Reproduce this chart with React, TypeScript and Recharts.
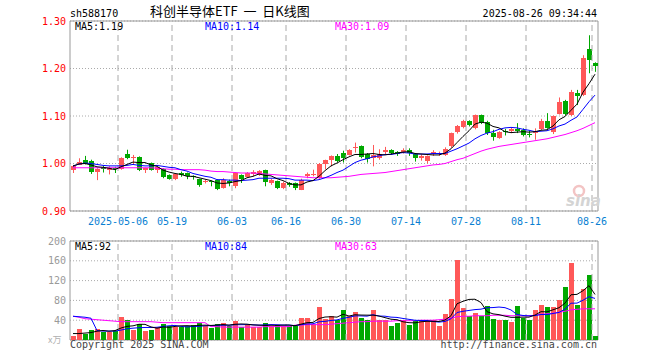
import React from 'react'
import { ComposedChart, Bar, Line, XAxis, YAxis, CartesianGrid, ReferenceLine, ReferenceArea } from 'recharts'

const UP = '#ff5858'
const DOWN = '#00a800'
const GRID = '#aaaaaa'
const FRAME = '#999999'
const MONO = '"DejaVu Sans Mono", monospace'
const CJK = '"Noto Sans CJK SC", sans-serif'

// trading days, 2025-04-21 .. 2025-08-26
const DATES = [
  '2025-04-21', '2025-04-22', '2025-04-23', '2025-04-24', '2025-04-25', '2025-04-28', '2025-04-29', '2025-04-30',
  '2025-05-06', '2025-05-07', '2025-05-08', '2025-05-09', '2025-05-12', '2025-05-13', '2025-05-14', '2025-05-15',
  '2025-05-16', '2025-05-19', '2025-05-20', '2025-05-21', '2025-05-22', '2025-05-23', '2025-05-26', '2025-05-27',
  '2025-05-28', '2025-05-29', '2025-05-30', '2025-06-03', '2025-06-04', '2025-06-05', '2025-06-06', '2025-06-09',
  '2025-06-10', '2025-06-11', '2025-06-12', '2025-06-13', '2025-06-16', '2025-06-17', '2025-06-18', '2025-06-19',
  '2025-06-20', '2025-06-23', '2025-06-24', '2025-06-25', '2025-06-26', '2025-06-27', '2025-06-30', '2025-07-01',
  '2025-07-02', '2025-07-03', '2025-07-04', '2025-07-07', '2025-07-08', '2025-07-09', '2025-07-10', '2025-07-11',
  '2025-07-14', '2025-07-15', '2025-07-16', '2025-07-17', '2025-07-18', '2025-07-21', '2025-07-22', '2025-07-23',
  '2025-07-24', '2025-07-25', '2025-07-28', '2025-07-29', '2025-07-30', '2025-07-31', '2025-08-01', '2025-08-04',
  '2025-08-05', '2025-08-06', '2025-08-07', '2025-08-08', '2025-08-11', '2025-08-12', '2025-08-13', '2025-08-14',
  '2025-08-15', '2025-08-18', '2025-08-19', '2025-08-20', '2025-08-21', '2025-08-22', '2025-08-25', '2025-08-26',
]

const OPEN = [
  0.986, 0.998, 1.008, 1.006, 0.981, 0.992, 0.987, 0.991, 0.988, 1.020, 1.011, 1.014, 0.986, 1.001, 0.985, 0.989,
  0.976, 0.966, 0.981, 0.980, 0.973, 0.967, 0.961, 0.963, 0.966, 0.949, 0.964, 0.951, 0.975, 0.972, 0.978, 0.976,
  0.986, 0.959, 0.963, 0.949, 0.958, 0.958, 0.946, 0.973, 0.975, 0.970, 0.998, 1.008, 1.016, 1.023, 1.018, 1.034,
  1.037, 1.020, 1.011, 1.011, 1.025, 1.029, 1.025, 1.025, 1.029, 1.020, 1.011, 1.006, 1.020, 1.021, 1.018, 1.036,
  1.065, 1.078, 1.090, 1.074, 1.102, 1.087, 1.064, 1.054, 1.068, 1.069, 1.073, 1.071, 1.062, 1.064, 1.073, 1.090,
  1.066, 1.104, 1.132, 1.102, 1.149, 1.144, 1.241, 1.212,
]
const HIGH = [
  0.997, 1.011, 1.016, 1.008, 0.990, 0.995, 0.994, 0.993, 1.013, 1.029, 1.018, 1.015, 0.991, 1.002, 0.993, 0.990,
  0.977, 0.978, 0.983, 0.981, 0.975, 0.968, 0.966, 0.964, 0.967, 0.969, 0.966, 0.981, 0.977, 0.982, 0.986, 0.986,
  0.987, 0.968, 0.964, 0.962, 0.961, 0.960, 0.968, 0.981, 0.987, 1.001, 1.008, 1.017, 1.020, 1.027, 1.030, 1.044,
  1.038, 1.022, 1.039, 1.030, 1.035, 1.030, 1.026, 1.032, 1.032, 1.022, 1.019, 1.017, 1.028, 1.025, 1.034, 1.065,
  1.081, 1.092, 1.091, 1.103, 1.103, 1.090, 1.071, 1.068, 1.073, 1.076, 1.085, 1.074, 1.069, 1.074, 1.094, 1.106,
  1.101, 1.139, 1.134, 1.155, 1.155, 1.228, 1.270, 1.213,
]
const LOW = [
  0.980, 0.997, 0.998, 0.978, 0.965, 0.981, 0.977, 0.980, 0.987, 1.009, 0.998, 0.984, 0.980, 0.985, 0.980, 0.969,
  0.966, 0.965, 0.972, 0.967, 0.966, 0.951, 0.958, 0.952, 0.944, 0.947, 0.952, 0.948, 0.959, 0.970, 0.973, 0.974,
  0.952, 0.955, 0.946, 0.946, 0.951, 0.944, 0.944, 0.969, 0.973, 0.968, 0.988, 0.994, 1.003, 1.002, 1.017, 1.023,
  1.011, 1.002, 0.994, 1.008, 1.020, 1.018, 1.016, 1.021, 1.016, 1.004, 1.006, 1.000, 1.016, 1.016, 1.016, 1.033,
  1.063, 1.074, 1.078, 1.072, 1.083, 1.060, 1.048, 1.052, 1.059, 1.064, 1.064, 1.057, 1.055, 1.050, 1.070, 1.073,
  1.062, 1.103, 1.101, 1.100, 1.123, 1.142, 1.190, 1.193,
]
const CLOSE = [
  0.994, 1.004, 0.999, 0.982, 0.988, 0.988, 0.991, 0.988, 1.012, 1.011, 1.013, 0.986, 0.990, 0.987, 0.992, 0.973,
  0.968, 0.977, 0.976, 0.973, 0.970, 0.955, 0.963, 0.960, 0.948, 0.966, 0.959, 0.979, 0.967, 0.980, 0.982, 0.984,
  0.960, 0.965, 0.949, 0.960, 0.954, 0.948, 0.966, 0.977, 0.977, 0.999, 1.007, 1.016, 1.005, 1.012, 1.029, 1.035,
  1.013, 1.009, 1.018, 1.020, 1.029, 1.023, 1.021, 1.029, 1.022, 1.011, 1.015, 1.016, 1.024, 1.023, 1.030, 1.064,
  1.078, 1.090, 1.082, 1.102, 1.085, 1.064, 1.056, 1.066, 1.066, 1.073, 1.069, 1.061, 1.061, 1.069, 1.090, 1.075,
  1.099, 1.129, 1.104, 1.151, 1.143, 1.222, 1.218, 1.206,
]
const MA5 = [
  0.995, 0.999, 1.000, 0.997, 0.993, 0.992, 0.990, 0.987, 0.993, 0.998, 1.003, 1.002, 1.002, 0.997, 0.994, 0.986,
  0.982, 0.979, 0.977, 0.973, 0.973, 0.970, 0.967, 0.964, 0.959, 0.958, 0.959, 0.962, 0.964, 0.970, 0.973, 0.978,
  0.975, 0.974, 0.968, 0.964, 0.958, 0.955, 0.955, 0.961, 0.964, 0.973, 0.985, 0.995, 1.001, 1.008, 1.014, 1.019,
  1.019, 1.020, 1.021, 1.019, 1.018, 1.020, 1.022, 1.024, 1.025, 1.021, 1.020, 1.019, 1.018, 1.018, 1.022, 1.031,
  1.044, 1.057, 1.069, 1.083, 1.087, 1.085, 1.078, 1.075, 1.067, 1.065, 1.066, 1.067, 1.066, 1.067, 1.070, 1.071,
  1.079, 1.092, 1.099, 1.112, 1.125, 1.150, 1.168, 1.188,
]
const MA10 = [
  0.994, 0.999, 1.001, 1.000, 0.998, 0.996, 0.995, 0.995, 0.995, 0.996, 0.998, 0.996, 0.995, 0.995, 0.996, 0.994,
  0.992, 0.991, 0.987, 0.984, 0.979, 0.976, 0.973, 0.971, 0.966, 0.966, 0.965, 0.965, 0.964, 0.965, 0.966, 0.969,
  0.969, 0.969, 0.969, 0.969, 0.968, 0.965, 0.965, 0.965, 0.964, 0.966, 0.970, 0.975, 0.981, 0.986, 0.994, 1.002,
  1.007, 1.010, 1.014, 1.016, 1.019, 1.019, 1.021, 1.023, 1.022, 1.020, 1.020, 1.020, 1.021, 1.021, 1.021, 1.026,
  1.031, 1.037, 1.043, 1.052, 1.059, 1.064, 1.067, 1.072, 1.075, 1.076, 1.075, 1.072, 1.070, 1.067, 1.068, 1.069,
  1.073, 1.079, 1.083, 1.091, 1.098, 1.114, 1.130, 1.144,
]
const MA30 = [
  0.991, 0.991, 0.991, 0.991, 0.991, 0.991, 0.991, 0.991, 0.991, 0.991, 0.991, 0.991, 0.991, 0.991, 0.990, 0.989,
  0.988, 0.988, 0.987, 0.987, 0.987, 0.987, 0.986, 0.984, 0.983, 0.983, 0.982, 0.981, 0.980, 0.980, 0.980, 0.979,
  0.978, 0.977, 0.976, 0.975, 0.974, 0.973, 0.972, 0.971, 0.970, 0.970, 0.970, 0.970, 0.971, 0.972, 0.973, 0.975,
  0.977, 0.978, 0.979, 0.980, 0.981, 0.983, 0.985, 0.987, 0.989, 0.991, 0.993, 0.995, 0.997, 0.998, 1.000, 1.004,
  1.008, 1.011, 1.016, 1.021, 1.026, 1.030, 1.033, 1.036, 1.038, 1.040, 1.042, 1.044, 1.046, 1.048, 1.050, 1.052,
  1.055, 1.058, 1.061, 1.065, 1.069, 1.074, 1.080, 1.086,
]

// volume, 万手
const VOLUME = [
  9, 23, 13, 21, 23, 16, 16, 19, 47, 40, 21, 32, 18, 21, 27, 33,
  29, 27, 27, 29, 30, 35, 29, 24, 33, 35, 29, 38, 27, 31, 27, 27,
  35, 29, 30, 29, 28, 28, 45, 45, 32, 67, 43, 48, 41, 61, 49, 56,
  45, 40, 61, 40, 40, 29, 35, 40, 31, 38, 40, 40, 40, 29, 53, 83,
  161, 65, 48, 55, 49, 69, 43, 40, 40, 37, 69, 45, 40, 61, 71, 67,
  66, 81, 107, 156, 71, 103, 132, 8,
]
const VOL_MA5 = [
  13, 13, 14, 15, 17.8, 19.2, 17.8, 19, 24.2, 27.6, 28.6, 31.8, 31.6, 26.4, 23.8, 26.2,
  25.6, 27.4, 28.6, 29, 28.4, 29.6, 30, 29.4, 30.2, 31.2, 30, 31.8, 32.4, 32, 30.4, 30,
  29.4, 29.8, 29.6, 30, 30.2, 28.8, 32, 35, 35.6, 43.4, 46.4, 47, 46.2, 52, 48.4, 51,
  50.4, 50.2, 50.2, 48.4, 45.2, 42, 41, 36.8, 35, 34.6, 36.8, 37.8, 37.8, 37.4, 40.4, 49,
  73.2, 78.2, 82, 82.4, 75.6, 57.2, 52.8, 51.2, 48.2, 45.8, 45.8, 46.2, 46.2, 50.4, 57.2, 56.8,
  61, 65.2, 74.4, 91.4, 92.2, 99.6, 109.8, 92,
]
const VOL_MA10 = [
  48, 47, 46, 44, 19, 18, 18, 18, 20, 22.7, 23.9, 24.8, 25.3, 25.3, 25.7, 27.4,
  28.7, 29.5, 27.5, 26.4, 27.3, 27.6, 28.7, 29, 29.6, 29.8, 29.8, 30.9, 30.9, 31.1, 30.8, 30,
  30.6, 31.1, 30.8, 30.2, 30.1, 29.1, 30.9, 32.3, 32.8, 36.8, 37.6, 39.5, 40.6, 43.8, 45.9, 48.7,
  48.7, 48.2, 51.1, 48.4, 48.1, 46.2, 45.6, 43.5, 41.7, 39.9, 39.4, 39.4, 37.3, 36.2, 37.5, 42.9,
  55.5, 58, 59.7, 61.4, 62.3, 65.2, 65.5, 66.6, 65.3, 60.7, 51.5, 49.5, 48.7, 49.3, 51.5, 51.3,
  53.6, 55.7, 62.4, 74.3, 74.5, 80.3, 87.5, 84,
]
const VOL_MA30 = [
  48, 46, 43, 42, 41, 40, 39, 38, 37, 37, 37, 37, 37, 37, 36, 35,
  35, 35, 35, 35, 35, 35, 35, 27, 27, 26, 26, 26, 26, 26, 26, 26,
  27, 27, 27, 27, 27, 30, 30, 31, 31, 31, 31, 32, 33, 34, 35, 36,
  37, 37, 38, 38, 38, 38, 39, 39, 39, 39, 40, 40, 40, 41, 42, 44,
  47, 48, 48, 49, 49, 49, 50, 50, 50, 49, 49, 49, 49, 50, 52, 53,
  54, 56, 58, 61, 62, 63, 63, 63,
]

const DATE_TICKS = ['2025-05-06', '2025-05-19', '2025-06-03', '2025-06-16', '2025-06-30', '2025-07-14', '2025-07-28', '2025-08-11', '2025-08-26']
const PRICE_TICKS = [0.9, 1.0, 1.1, 1.2, 1.3]
const VOL_TICKS = [40, 80, 120, 160, 200]

const rows = DATES.map((date, i) => ({
  date,
  open: OPEN[i],
  high: HIGH[i],
  low: LOW[i],
  close: CLOSE[i],
  range: [LOW[i], HIGH[i]],
  ma5: MA5[i],
  ma10: MA10[i],
  ma30: MA30[i],
  vol: VOLUME[i],
  vma5: VOL_MA5[i],
  vma10: VOL_MA10[i],
  vma30: VOL_MA30[i],
}))

const isUp = (p: any) => p.close >= p.open

function Candle(props: any) {
  const { x, y, width, height, payload } = props
  if (!payload) return null
  const top = Math.min(y, y + height)
  const h = Math.abs(height)
  const ppu = payload.high > payload.low ? h / (payload.high - payload.low) : 0
  const color = isUp(payload) ? UP : DOWN
  const bx = Math.round(x + 0.01)
  const bw = Math.round(width)
  const cx = bx + Math.floor(bw / 2) + 0.5
  const bodyTop = top + (payload.high - Math.max(payload.open, payload.close)) * ppu
  const bodyH = Math.abs(payload.open - payload.close) * ppu
  return (
    <g>
      <line x1={cx} x2={cx} y1={top} y2={top + h} stroke={color} strokeWidth={1} />
      <rect x={bx} y={Math.round(bodyTop)} width={bw} height={Math.max(1, Math.round(bodyH))} fill={color} />
    </g>
  )
}

function VolBar(props: any) {
  const { x, y, width, height, payload } = props
  if (!payload) return null
  const top = Math.round(Math.min(y, y + height))
  const bottom = Math.round(Math.max(y, y + height))
  return <rect x={Math.round(x + 0.01)} y={top} width={Math.round(width)} height={Math.max(1, bottom - top)} fill={isUp(payload) ? UP : DOWN} />
}

function PriceTick({ y, payload }: any) {
  return (
    <text x={66} y={y + 3.5} textAnchor="end" fill="#ff0000" fontSize={10} fontFamily={MONO}>
      {Number(payload.value).toFixed(2)}
    </text>
  )
}

function VolTick({ y, payload }: any) {
  return (
    <text x={66} y={y + 3.5} textAnchor="end" fill="#9a9a9a" fontSize={10} fontFamily={MONO}>
      {payload.value}
    </text>
  )
}

function DateTick({ x, payload }: any) {
  const d = payload.value as string
  const label = d === DATE_TICKS[0] ? d : d.slice(5)
  // label sits on the gridline, which is at the start of the day's band
  return (
    <text x={x - 3} y={225} textAnchor="middle" fill="#0a7fd2" fontSize={10} fontFamily={MONO}>
      {label}
    </text>
  )
}

const vLines = DATE_TICKS.map(d => (
  <ReferenceLine key={d} x={d} position="start" stroke={GRID} strokeDasharray="6 4" strokeWidth={1} />
))

export default function App() {
  return (
    <div style={{ position: 'absolute', left: 0, top: 0, width: 660, height: 360, background: '#fff', overflow: 'hidden' }}>
      <div style={{ position: 'absolute', left: 0, top: 0 }}>
        <ComposedChart width={660} height={232} data={rows} margin={{ top: 21, right: 62, bottom: 0, left: 0 }}>
          <CartesianGrid vertical={false} stroke={GRID} strokeDasharray="1 2" />
          {vLines}
          <XAxis dataKey="date" ticks={DATE_TICKS} interval={0} height={21} axisLine={false} tickLine={false} tick={DateTick} />
          <YAxis domain={[0.9, 1.3]} ticks={PRICE_TICKS} interval={0} width={70} axisLine={false} tickLine={false} tick={PriceTick} allowDataOverflow />
          <Bar dataKey="range" barSize={5} shape={Candle} isAnimationActive={false} />
          <Line type="linear" dataKey="ma30" stroke="#ff00ff" strokeWidth={1} dot={false} activeDot={false} isAnimationActive={false} />
          <Line type="linear" dataKey="ma10" stroke="#0000ff" strokeWidth={1} dot={false} activeDot={false} isAnimationActive={false} />
          <Line type="linear" dataKey="ma5" stroke="#000000" strokeWidth={1} dot={false} activeDot={false} isAnimationActive={false} />
          <ReferenceArea y1={0.9} y2={1.3} fill="none" stroke={FRAME} strokeWidth={1} />
        </ComposedChart>
      </div>
      <div style={{ position: 'absolute', left: 0, top: 230 }}>
        <ComposedChart width={660} height={120} data={rows} margin={{ top: 11, right: 62, bottom: 10, left: 0 }}>
          <CartesianGrid vertical={false} stroke={GRID} strokeDasharray="1 2" />
          {vLines}
          <XAxis dataKey="date" hide />
          <YAxis domain={[0, 200]} ticks={VOL_TICKS} interval={0} width={70} axisLine={false} tickLine={false} tick={VolTick} allowDataOverflow />
          <Bar dataKey="vol" barSize={5} shape={VolBar} isAnimationActive={false} />
          <Line type="linear" dataKey="vma30" stroke="#ff00ff" strokeWidth={1} dot={false} activeDot={false} isAnimationActive={false} />
          <Line type="linear" dataKey="vma10" stroke="#0000ff" strokeWidth={1} dot={false} activeDot={false} isAnimationActive={false} />
          <Line type="linear" dataKey="vma5" stroke="#000000" strokeWidth={1} dot={false} activeDot={false} isAnimationActive={false} />
          <ReferenceArea y1={0} y2={200} fill="none" stroke={FRAME} strokeWidth={1} />
        </ComposedChart>
      </div>
      <svg width={660} height={360} style={{ position: 'absolute', left: 0, top: 0, pointerEvents: 'none', whiteSpace: 'pre' }}>
        <text x={70} y={16.5} fontSize={10} fontFamily={MONO} fill="#000">sh588170</text>
        <text x={150} y={16} fontSize={13} fontFamily={CJK} fill="#000" style={{ whiteSpace: 'pre' }}>{'科创半导体ETF  一  日K线图'}</text>
        <text x={597} y={16.5} fontSize={10} fontFamily={MONO} fill="#000" textAnchor="end">2025-08-26 09:34:44</text>

        <text x={75} y={30} fontSize={10} fontFamily={MONO} fill="#000">MA5:1.19</text>
        <text x={205} y={30} fontSize={10} fontFamily={MONO} fill="#0000ff">MA10:1.14</text>
        <text x={335} y={30} fontSize={10} fontFamily={MONO} fill="#ff00ff">MA30:1.09</text>

        <text x={75} y={250} fontSize={10} fontFamily={MONO} fill="#000">MA5:92</text>
        <text x={205} y={250} fontSize={10} fontFamily={MONO} fill="#0000ff">MA10:84</text>
        <text x={335} y={250} fontSize={10} fontFamily={MONO} fill="#ff00ff">MA30:63</text>

        <circle cx={579} cy={191} r={5} fill="none" stroke="#f3c4c4" strokeWidth={2.5} />
        <text x={566} y={206} fontSize={15} fontWeight="bold" fontStyle="italic" fontFamily="'DejaVu Sans', sans-serif" fill="#d4d4d4">sina</text>

        <text x={48} y={343} fontSize={9} fontFamily={CJK} fill="#b0b0b0">x万</text>
        <text x={70} y={348} fontSize={10} fontFamily={MONO} fill="#444">Copyright 2025 SINA.COM</text>
        <text x={597} y={348} fontSize={10} fontFamily={MONO} fill="#444" textAnchor="end">http://finance.sina.com.cn</text>
      </svg>
    </div>
  )
}
